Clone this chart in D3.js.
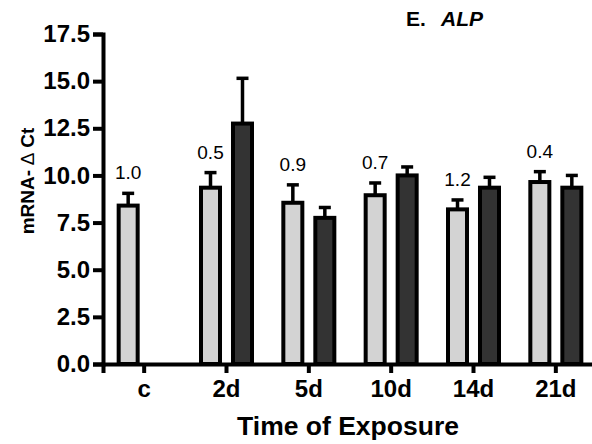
<!DOCTYPE html>
<html>
<head>
<meta charset="utf-8">
<script src="https://cdn.jsdelivr.net/npm/d3@7"></script>
<style>
  body { margin: 0; background: #fff; }
  svg { font-family: "Liberation Sans", Arial, sans-serif; }
  .axis path, .axis line { stroke: #000; stroke-width: 4; }
  .axis text { font-weight: bold; font-size: 24px; fill: #000; }
</style>
</head>
<body>
<svg id="chart"></svg>
<script>
// data
const categories = ["c", "2d", "5d", "10d", "14d", "21d"];
const groups = ["control", "exposed"];
const controlMean = [8.4, 9.35, 8.55, 8.95, 8.2, 9.65];
const controlSem = [0.65, 0.8, 0.95, 0.65, 0.5, 0.55];
const exposedMean = [0, 12.75, 7.75, 10.0, 9.35, 9.35];
const exposedSem = [0, 2.4, 0.55, 0.45, 0.55, 0.65];
const ratioLabels = ["1.0", "0.5", "0.9", "0.7", "1.2", "0.4"];
const yTicks = [0, 2.5, 5, 7.5, 10, 12.5, 15, 17.5];

const WIDTH = 592;
const HEIGHT = 444;
const MARGINS = {top: 34, bottom: 80, left: 103, right: -5};
const COLORS = {control: "#d3d3d3", exposed: "#333333"};

const svg = d3.select("#chart")
    .attr("width", WIDTH)
    .attr("height", HEIGHT);

const x0 = d3.scaleBand()
    .domain(categories)
    .range([MARGINS.left, WIDTH - MARGINS.right]);

const x1 = d3.scaleBand()
    .domain(groups)
    .range([-25.5, 25.5])
    .paddingInner(0.406);

const y = d3.scaleLinear()
    .domain([0, 17.5])
    .range([HEIGHT - MARGINS.bottom, MARGINS.top]);

// flatten to one record per bar
let bars = [];
categories.forEach((c, i) => {
    bars.push({cat: c, group: "control", mean: controlMean[i], sem: controlSem[i]});
    bars.push({cat: c, group: "exposed", mean: exposedMean[i], sem: exposedSem[i]});
});

const barX = d => x0(d.cat) + x0.bandwidth() / 2 + x1(d.group);
const barMid = d => barX(d) + x1.bandwidth() / 2;

// error bars (upper only), drawn under the bars
let err = svg.append("g")
    .attr("stroke", "#000")
    .attr("stroke-width", 3.5);

err.selectAll("line.stem")
    .data(bars.filter(d => d.sem > 0))
    .enter()
    .append("line")
    .attr("class", "stem")
    .attr("x1", barMid).attr("x2", barMid)
    .attr("y1", d => y(d.mean))
    .attr("y2", d => y(d.mean + d.sem));

err.selectAll("line.cap")
    .data(bars.filter(d => d.sem > 0))
    .enter()
    .append("line")
    .attr("class", "cap")
    .attr("x1", d => barMid(d) - 6).attr("x2", d => barMid(d) + 6)
    .attr("y1", d => y(d.mean + d.sem))
    .attr("y2", d => y(d.mean + d.sem));

// bars
svg.append("g")
    .selectAll("rect")
    .data(bars)
    .enter()
    .append("rect")
    .attr("x", barX)
    .attr("width", x1.bandwidth())
    .attr("y", d => y(d.mean))
    .attr("height", d => y(0) - y(d.mean))
    .style("fill", d => COLORS[d.group])
    .style("stroke", "#000")
    .style("stroke-width", 4);

// axes
svg.append("g")
    .attr("class", "axis")
    .attr("transform", `translate(0, ${y(0)})`)
    .call(d3.axisBottom(x0).tickSizeOuter(0).tickSize(9).tickPadding(7));

svg.append("g")
    .attr("class", "axis")
    .attr("transform", `translate(${MARGINS.left}, 0)`)
    .call(d3.axisLeft(y).tickValues(yTicks).tickFormat(d3.format(".1f")).tickSizeOuter(0).tickSize(10).tickPadding(3));

// ratio labels above the control bars
svg.append("g")
    .selectAll("text")
    .data(categories)
    .enter()
    .append("text")
    .attr("x", (d, i) => barMid(bars[i * 2]))
    .attr("y", (d, i) => y(controlMean[i] + controlSem[i]) - 14)
    .style("text-anchor", "middle")
    .style("font-size", "19px")
    .text((d, i) => ratioLabels[i]);

// title
let title = svg.append("text")
    .attr("x", 406)
    .attr("y", 26)
    .style("font-size", "21px")
    .style("font-weight", "bold");
title.append("tspan").text("E.");
title.append("tspan").attr("x", 441).style("font-style", "italic").text("ALP");

// axis titles
svg.append("text")
    .attr("x", 348)
    .attr("y", 435)
    .style("text-anchor", "middle")
    .style("font-size", "26.5px")
    .style("font-weight", "bold")
    .text("Time of Exposure");

let yTitle = svg.append("text")
    .attr("transform", "translate(34, 181) rotate(-90)")
    .style("text-anchor", "middle")
    .style("font-size", "19px")
    .style("font-weight", "bold");
yTitle.append("tspan").text("mRNA- ");
yTitle.append("tspan").style("font-weight", "normal").text("\u2206");
yTitle.append("tspan").text(" Ct");
</script>
</body>
</html>
